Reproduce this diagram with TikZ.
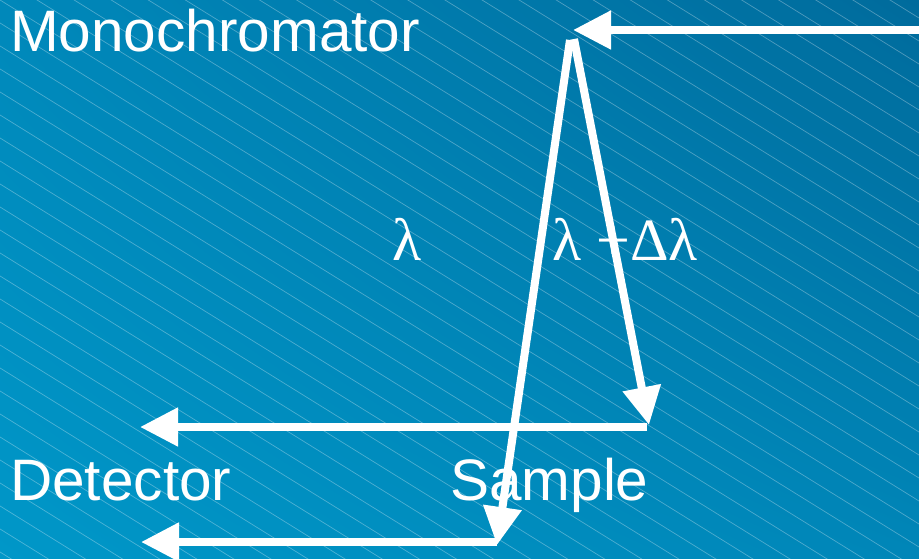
\documentclass[tikz,border=0pt]{standalone}
\usepackage{fontspec}
\setmainfont{Liberation Sans}
\newfontfamily\greekserif{Liberation Serif}
\usetikzlibrary{arrows.meta,shadings}
\definecolor{bgLL}{HTML}{0097C8}
\definecolor{bgUR}{HTML}{006B9C}
\definecolor{bgUL}{HTML}{0088BA}
\definecolor{bgLR}{HTML}{0086B8}
\begin{document}
\begin{tikzpicture}[x=1pt,y=-1pt,
  beam/.style={draw=white, line width=8pt},
  beamarrow/.style={beam, -{Triangle[length=38pt,width=37pt]}},
  lbl/.style={text=white, font=\fontsize{58.5}{60}\selectfont, inner sep=0pt, anchor=base west},
  glbl/.style={text=white, font=\greekserif\fontsize{60}{62}\selectfont, inner sep=0pt, anchor=base west},
  hatch/.style={draw=white, draw opacity=0.3, line width=0.7pt}]
  % background
  \shade[upper left=bgUL, upper right=bgUR, lower left=bgLL, lower right=bgLR] (0,0) rectangle (919,559);
  \begin{scope}
    \clip (0,0) rectangle (919,559);
    \foreach \b in {-598,-575,...,560}
      \draw[hatch] (0,\b) -- (919,\b+570);
  \end{scope}
  \useasboundingbox (0,0) rectangle (919,559);

  % labels
  \node[lbl] (mono) at (10,52) {Monochromator};
  \node[lbl] (det) at (10,500) {Detector};
  \node[lbl] (samp) at (450,500) {Sample};
  \node[glbl] (lam) at (392,260) {λ};
  \node[glbl] (lamd) at (552,260) {λ +Δλ};

  % beam points
  \coordinate (src) at (919,30);
  \coordinate (monotip) at (573,30);
  \coordinate (peakL) at (570,40);
  \coordinate (peakR) at (574,39);
  \coordinate (sampR) at (649,425);
  \coordinate (sampRe) at (647,427);
  \coordinate (detA) at (140,427);
  \coordinate (sampL) at (497,545);
  \coordinate (sampLe) at (497,542);
  \coordinate (detB) at (141,542);

  % beams
  \draw[beamarrow] (src) -- (monotip);
  \draw[beamarrow] (peakR) -- (sampR);
  \draw[beamarrow] (sampRe) -- (detA);
  \draw[beamarrow] (peakL) -- (sampL);
  \draw[beamarrow] (sampLe) -- (detB);
\end{tikzpicture}
\end{document}
